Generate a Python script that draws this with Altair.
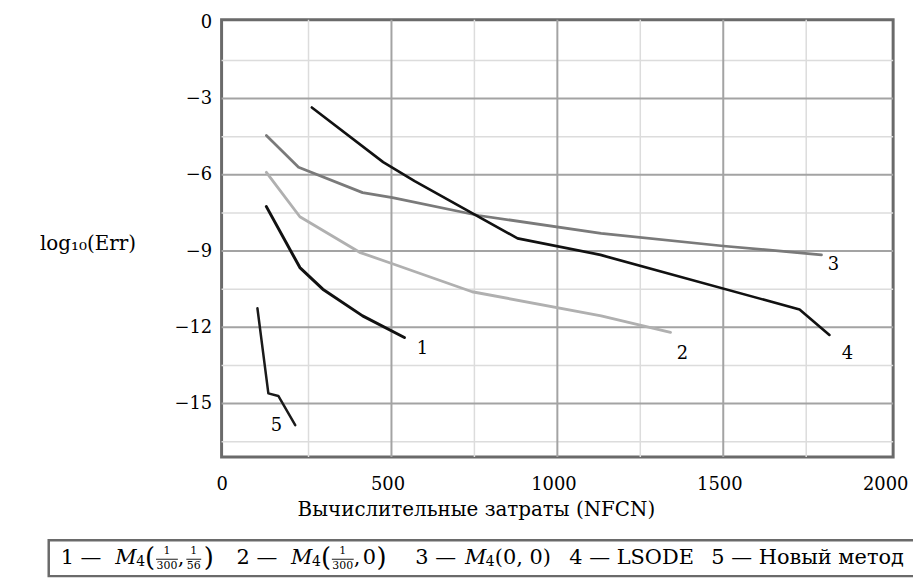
import altair as alt
import pandas as pd

# ---- data ----
x1 = [123, 224, 293, 413, 539]
y1 = [-7.25, -9.65, -10.5, -11.55, -12.4]
x2 = [123, 224, 404, 503, 743, 1132, 1341]
y2 = [-5.9, -7.65, -9.05, -9.5, -10.6, -11.55, -12.2]
x3 = [123, 220, 413, 503, 763, 1132, 1500, 1796]
y3 = [-4.45, -5.7, -6.7, -6.9, -7.6, -8.3, -8.8, -9.15]
x4 = [260, 475, 570, 880, 1130, 1730, 1820]
y4 = [-3.35, -5.5, -6.25, -8.5, -9.15, -11.3, -12.3]
x5 = [96, 129, 159, 210]
y5 = [-11.25, -14.6, -14.7, -15.85]

label_text = ["1", "2", "3", "4", "5"]
label_x = [593, 1377, 1832, 1874, 153]
label_y = [-12.85, -13.05, -9.55, -13.05, -15.9]

x_major = [500, 1000, 1500]
x_minor = [250, 750, 1250, 1750]
y_major = [-3, -6, -9, -12, -15]
y_minor = [-1.5, -4.5, -7.5, -10.5, -13.5, -16.5]
x_ticks = [0, 500, 1000, 1500, 2000]
y_ticks = [0, -3, -6, -9, -12, -15]

series_names = ["1", "2", "3", "4", "5"]
series_colors = ["#111111", "#b0b0b0", "#7a7a7a", "#111111", "#1a1a1a"]
series_widths = [3, 2.5, 2.5, 3, 3]

legend_items = ["1", "2", "3", "4", "5"]

W, H = 676, 440
FONT = "DejaVu Serif"

rows = []
for name, xs_, ys_ in zip(series_names, [x1, x2, x3, x4, x5], [y1, y2, y3, y4, y5]):
    for i, (a, b) in enumerate(zip(xs_, ys_)):
        rows.append({"s": name, "x": a, "y": b, "o": i})
df = pd.DataFrame(rows)

xs = alt.Scale(domain=[-12, 2012], nice=False, zero=False)
ys = alt.Scale(domain=[-17.1, 0.1], nice=False, zero=False)

X = alt.X("x:Q", scale=xs,
          axis=alt.Axis(values=x_ticks, format="d", title="Вычислительные затраты (NFCN)",
                        grid=False, ticks=False, domain=False, labelPadding=19,
                        labelFlush=False, labelOffset=-4,
                        labelFont=FONT, labelFontSize=18, labelColor="#000",
                        titleFont=FONT, titleFontSize=20, titleFontWeight="normal",
                        titleColor="#000", titleX=256, titleY=53,
                        titleBaseline="middle", titleAlign="center"))
Y = alt.Y("y:Q", scale=ys,
          axis=alt.Axis(values=y_ticks, format="d", title="log₁₀(Err)", grid=False, ticks=False,
                        domain=False, labelPadding=10, labelFlush=False, labelFont=FONT,
                        labelFontSize=18, labelColor="#000",
                        titleFont=FONT, titleFontSize=20, titleFontWeight="normal",
                        titleColor="#000", titleAngle=0, titleX=-135, titleY=225,
                        titleAlign="center", titleBaseline="middle"))

minor_x = alt.Chart(pd.DataFrame({"x": x_minor})).mark_rule(
    color="#dcdcdc", strokeWidth=1.5).encode(x=alt.X("x:Q", scale=xs))
major_x = alt.Chart(pd.DataFrame({"x": x_major})).mark_rule(
    color="#a3a3a3", strokeWidth=2).encode(x=alt.X("x:Q", scale=xs))
minor_y = alt.Chart(pd.DataFrame({"y": y_minor})).mark_rule(
    color="#dcdcdc", strokeWidth=1.5).encode(y=alt.Y("y:Q", scale=ys))
major_y = alt.Chart(pd.DataFrame({"y": y_major})).mark_rule(
    color="#a3a3a3", strokeWidth=2).encode(y=alt.Y("y:Q", scale=ys))

lines = alt.Chart(df).mark_line(strokeJoin="round", strokeCap="round").encode(
    x=X, y=Y, order="o:Q",
    color=alt.Color("s:N", scale=alt.Scale(domain=series_names, range=series_colors), legend=None),
    strokeWidth=alt.StrokeWidth("s:N", scale=alt.Scale(domain=series_names, range=series_widths), legend=None),
)

labels = alt.Chart(pd.DataFrame({"t": label_text, "x": label_x, "y": label_y})).mark_text(
    font=FONT, fontSize=18, color="#000").encode(
    x=alt.X("x:Q", scale=xs), y=alt.Y("y:Q", scale=ys), text="t:N")

# ---- legend box below the plot (positions in page pixels, shifted to plot coords) ----
OX = 220          # page x of the plot's left edge
one = pd.DataFrame({"a": [0]})
box = alt.Chart(one).mark_rect(fill="white", stroke="#6a6a6a", strokeWidth=2.5).encode(
    x=alt.value(46 - OX), x2=alt.value(918 - OX), y=alt.value(524), y2=alt.value(560))

LEG_Y = 542
FS = 21
leg_layers = []


def txt(t, px, dy=0, sz=FS, st="normal", align="left"):
    leg_layers.append(alt.Chart(one).mark_text(
        font=FONT, fontSize=sz, fontStyle=st, align=align, baseline="middle",
        color="#000", text=t).encode(x=alt.value(px - OX), y=alt.value(LEG_Y + dy)))


def frac(num, den, cx, w):
    txt(num, cx, -7, 11, align="center")
    txt(den, cx, 8, 11, align="center")
    leg_layers.append(alt.Chart(one).mark_rule(color="#000", strokeWidth=0.9).encode(
        x=alt.value(cx - w / 2 - OX), x2=alt.value(cx + w / 2 - OX), y=alt.value(LEG_Y + 1)))


def m4(px):
    txt("M", px, 0, FS, "italic")
    txt("4", px + 21, 4, 14)
    return px + 30


# item 1
txt(legend_items[0] + " —", 58)
p = m4(113)
txt("(", p, 0, 26)
frac("1", "300", p + 22, 22)
txt(",", p + 33)
frac("1", "56", p + 49, 15)
txt(")", p + 59, 0, 26)
# item 2
txt(legend_items[1] + " —", 235)
p = m4(290)
txt("(", p, 0, 26)
frac("1", "300", p + 22, 22)
txt(",", p + 33)
txt("0", p + 42)
txt(")", p + 56, 0, 26)
# item 3
txt(legend_items[2] + " —", 415)
p = m4(465)
txt("(0, 0)", p)
# item 4
txt(legend_items[3] + " — LSODE", 570)
# item 5
txt(legend_items[4] + " — Новый метод", 713)

chart = alt.layer(
    minor_x, minor_y, major_x, major_y, lines, labels, box, *leg_layers
).properties(
    width=W, height=H,
    autosize=alt.AutoSizeParams(type="none"),
    padding={"left": 215, "top": 10, "right": 20, "bottom": 120},
).configure_view(
    stroke="#6a6a6a", strokeWidth=3
)

chart.save("out.html", embed_options={"renderer": "svg", "actions": False})
